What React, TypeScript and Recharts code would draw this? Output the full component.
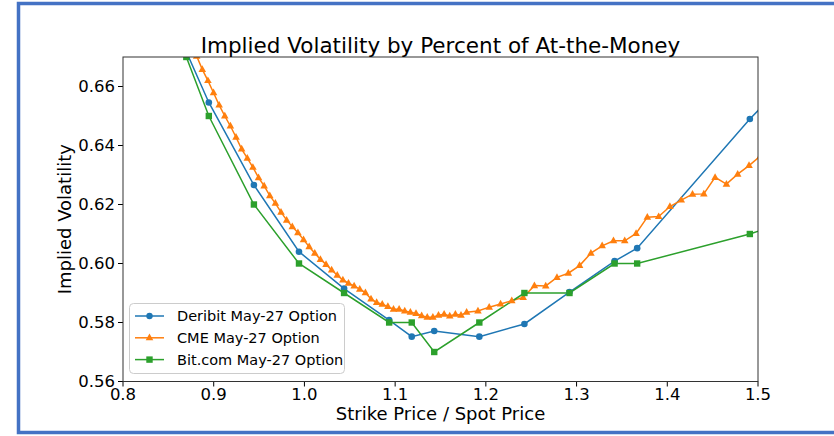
import React from 'react';
import {LineChart, Line, XAxis, YAxis} from 'recharts';

// strike / spot ratios and implied vols
const deribitX = [0.845, 0.8946, 0.9443, 0.994, 1.0437, 1.0934, 1.1183, 1.1431, 1.1928, 1.2425, 1.2922, 1.3419, 1.3668, 1.491, 1.5905];
const deribitIV = [0.689, 0.6546, 0.6266, 0.604, 0.5915, 0.5808, 0.5752, 0.5771, 0.5752, 0.5795, 0.5903, 0.6008, 0.6052, 0.649, 0.68];

const bitcomX = [0.8698, 0.8946, 0.9443, 0.994, 1.0437, 1.0934, 1.1183, 1.1431, 1.1928, 1.2425, 1.2922, 1.3419, 1.3668, 1.491, 1.5905];
const bitcomIV = [0.67, 0.65, 0.62, 0.60, 0.59, 0.58, 0.58, 0.57, 0.58, 0.59, 0.59, 0.60, 0.60, 0.61, 0.62];

const cmeX = [
  0.8750, 0.8812, 0.8874, 0.8936, 0.8998, 0.9060, 0.9122, 0.9184, 0.9246, 0.9308,
  0.9370, 0.9432, 0.9494, 0.9556, 0.9618, 0.9680, 0.9742, 0.9804, 0.9866, 0.9928,
  0.9990, 1.0052, 1.0114, 1.0176, 1.0238, 1.0300, 1.0362, 1.0424, 1.0486, 1.0548,
  1.0610, 1.0672, 1.0734, 1.0796, 1.0858, 1.0920, 1.0982, 1.1044, 1.1106, 1.1168,
  1.1230, 1.1292, 1.1354, 1.1416, 1.1478, 1.1540, 1.1602, 1.1664, 1.1726, 1.1788,
  1.1913, 1.2037, 1.2162, 1.2286, 1.2411, 1.2535, 1.2660, 1.2784, 1.2909, 1.3033,
  1.3158, 1.3282, 1.3407, 1.3531, 1.3656, 1.3780, 1.3905, 1.4029, 1.4154, 1.4278,
  1.4403, 1.4527, 1.4652, 1.4776, 1.4901, 1.5025,
];
const cmeIV = [
  0.6747, 0.6703, 0.6658, 0.6620, 0.6579, 0.6537, 0.6500, 0.6466, 0.6428, 0.6388,
  0.6357, 0.6326, 0.6291, 0.6263, 0.6230, 0.6204, 0.6174, 0.6147, 0.6125, 0.6104,
  0.6081, 0.6057, 0.6035, 0.6014, 0.5997, 0.5978, 0.5960, 0.5944, 0.5933, 0.5924,
  0.5913, 0.5901, 0.5880, 0.5868, 0.5862, 0.5854, 0.5845, 0.5845, 0.5839, 0.5835,
  0.5831, 0.5823, 0.5818, 0.5818, 0.5825, 0.5828, 0.5822, 0.5828, 0.5825, 0.5835,
  0.5839, 0.5852, 0.5863, 0.5874, 0.5885, 0.5925, 0.5924, 0.5953, 0.5967, 0.5993,
  0.6035, 0.6060, 0.6077, 0.6077, 0.6102, 0.6157, 0.6159, 0.6193, 0.6215, 0.6235,
  0.6236, 0.6292, 0.6269, 0.6303, 0.6332, 0.6364,
];

const xTicks = [0.8, 0.9, 1.0, 1.1, 1.2, 1.3, 1.4, 1.5];
const yTicks = [0.56, 0.58, 0.60, 0.62, 0.64, 0.66];

const seriesNames = ['Deribit May-27 Option', 'CME May-27 Option', 'Bit.com May-27 Option'];
const BLUE = '#1f77b4';
const ORANGE = '#ff7f0e';
const GREEN = '#2ca02c';

const toPoints = (xs: number[], ys: number[]) => xs.map((x, i) => ({x, y: ys[i]}));

const FONT = '"DejaVu Sans", sans-serif';

const circleDot = (p: any) => <circle key={`c-${p.index}`} cx={p.cx} cy={p.cy} r={3.3} fill={BLUE}/>;
const triDot = (p: any) => {
  const s = 4.2;
  return <polygon key={`t-${p.index}`} fill={ORANGE}
    points={`${p.cx},${p.cy - s} ${p.cx - s * 0.9},${p.cy + s * 0.6} ${p.cx + s * 0.9},${p.cy + s * 0.6}`}/>;
};
const squareDot = (p: any) => <rect key={`s-${p.index}`} x={p.cx - 3.2} y={p.cy - 3.2} width={6.4} height={6.4} fill={GREEN}/>;

// plot box in page pixels
const L = 123, R = 758, T = 57, B = 381.5;

export default function App() {
  const markers = [
    (x: number, y: number) => <circle cx={x} cy={y} r={3.2} fill={BLUE}/>,
    (x: number, y: number) => <polygon fill={ORANGE} points={`${x},${y - 4.2} ${x - 3.8},${y + 2.5} ${x + 3.8},${y + 2.5}`}/>,
    (x: number, y: number) => <rect x={x - 3.2} y={y - 3.2} width={6.4} height={6.4} fill={GREEN}/>,
  ];
  const colors = [BLUE, ORANGE, GREEN];

  return (
    <div style={{position: 'relative', width: 834, height: 436, background: '#fff', overflow: 'hidden'}}>
      <style>{'body{margin:0}'}</style>
      <LineChart width={834} height={436}
        margin={{top: T, right: 834 - R, bottom: 436 - B - 30, left: L - 60}}>
        <XAxis type="number" dataKey="x" domain={[0.8, 1.5]} ticks={xTicks} allowDataOverflow
          tickFormatter={(v: number) => v.toFixed(1)} height={30} tickSize={5} tickMargin={2}
          axisLine={false} tickLine={{stroke: '#000'}}
          tick={{fontSize: 16.5, fill: '#000', fontFamily: FONT}}/>
        <YAxis type="number" dataKey="y" domain={[0.56, 0.67]} ticks={yTicks} allowDataOverflow
          tickFormatter={(v: number) => v.toFixed(2)} width={60} tickSize={5} tickMargin={3}
          axisLine={false} tickLine={{stroke: '#000'}}
          tick={{fontSize: 16.5, fill: '#000', fontFamily: FONT}}/>
        <Line data={toPoints(deribitX, deribitIV)} dataKey="y" stroke={BLUE} strokeWidth={1.5}
          dot={circleDot} isAnimationActive={false} name={seriesNames[0]}/>
        <Line data={toPoints(cmeX, cmeIV)} dataKey="y" stroke={ORANGE} strokeWidth={1.5}
          dot={triDot} isAnimationActive={false} name={seriesNames[1]}/>
        <Line data={toPoints(bitcomX, bitcomIV)} dataKey="y" stroke={GREEN} strokeWidth={1.5}
          dot={squareDot} isAnimationActive={false} name={seriesNames[2]}/>
      </LineChart>
      <svg width={834} height={436} style={{position: 'absolute', left: 0, top: 0, pointerEvents: 'none'}}
        fontFamily={FONT}>
        <rect x={L} y={T} width={R - L} height={B - T} fill="none" stroke="#333" strokeWidth={1}/>
        <text x={(L + R) / 2} y={53} textAnchor="middle" fontSize={21.5} fill="#000">
          Implied Volatility by Percent of At-the-Money
        </text>
        <text x={(L + R) / 2} y={420} textAnchor="middle" fontSize={18} fill="#000">
          Strike Price / Spot Price
        </text>
        <text transform={`translate(71, ${(T + B) / 2}) rotate(-90)`} textAnchor="middle" fontSize={18} fill="#000">
          Implied Volatility
        </text>
        <rect x={129.5} y={303.5} width={215} height={70} rx={4} fill="#fff" fillOpacity={0.8} stroke="#ccc"/>
        {seriesNames.map((name, i) => {
          const y = 316 + i * 21.8;
          return (
            <g key={name}>
              <line x1={135} x2={164} y1={y} y2={y} stroke={colors[i]} strokeWidth={1.5}/>
              {markers[i](149.5, y)}
              <text x={177} y={y + 5} fontSize={14.5} fill="#000">{name}</text>
            </g>
          );
        })}
        <rect x={18.5} y={3.5} width={834} height={429} fill="none" stroke="#4472c4" strokeWidth={3.5}/>
      </svg>
    </div>
  );
}
